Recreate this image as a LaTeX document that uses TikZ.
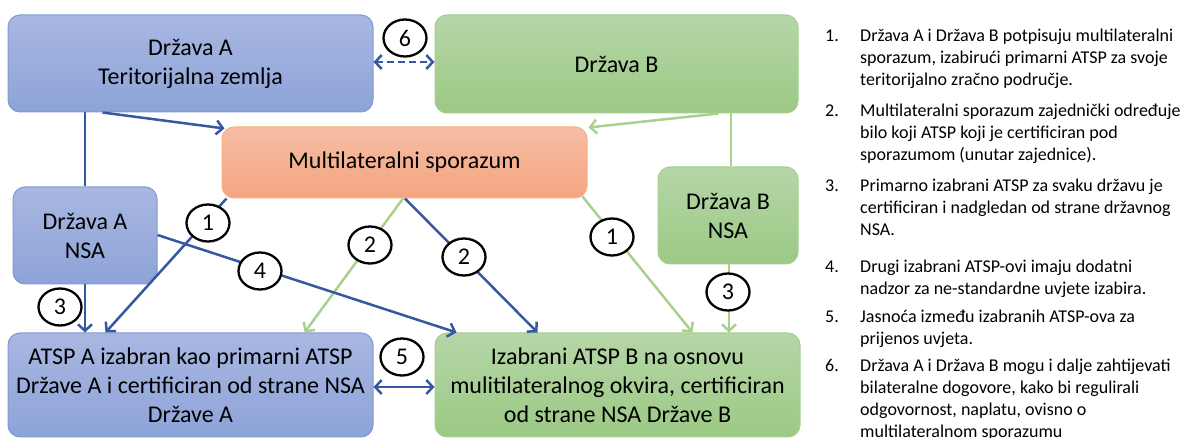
\documentclass[tikz,border=0pt]{standalone}
\usepackage{fontspec}
\setmainfont{Carlito}
\usetikzlibrary{arrows.meta,shapes.geometric,calc}
\definecolor{bluetop}{HTML}{A9B7E1}
\definecolor{bluebot}{HTML}{8DA3D8}
\definecolor{blueedge}{HTML}{7F9AD2}
\definecolor{greentop}{HTML}{B5D6A7}
\definecolor{greenbot}{HTML}{9CC985}
\definecolor{greenedge}{HTML}{A5CF8F}
\definecolor{orangetop}{HTML}{F6BEA5}
\definecolor{orangebot}{HTML}{F4A47F}
\definecolor{orangeedge}{HTML}{F4B183}
\definecolor{blueline}{HTML}{3558A0}
\definecolor{greenline}{HTML}{A9D18E}
\tikzset{
  box/.style={rectangle, rounded corners=12pt, line width=1pt, align=center,
    font=\fontsize{24}{29}\selectfont, inner sep=0pt},
  bluebox/.style={box, draw=blueedge, top color=bluetop, bottom color=bluebot},
  greenbox/.style={box, draw=greenedge, top color=greentop, bottom color=greenbot},
  orangebox/.style={box, draw=orangeedge, top color=orangetop, bottom color=orangebot},
  numcirc/.style={ellipse, draw=black, line width=2.3pt, fill=white, minimum width=43pt,
    minimum height=37pt, inner sep=0pt, font=\fontsize{24}{24}\selectfont},
  tip/.style={-{Straight Barb[length=6.5pt,width=14pt]}},
  bline/.style={draw=blueline, line width=2.5pt},
  gline/.style={draw=greenline, line width=2.5pt},
  legnum/.style={anchor=base west, inner sep=0pt, font=\fontsize{18}{21.7}\selectfont},
  legtxt/.style={anchor=base west, inner sep=0pt, font=\fontsize{18}{21.7}\selectfont},
}
\begin{document}
\begin{tikzpicture}[x=1pt,y=-1pt]
\useasboundingbox (0,0) rectangle (1195,438);
% boxes
\node[bluebox, minimum width=365pt, minimum height=97pt] (dA) at (190.5,63.5) {Država A\\Teritorijalna zemlja};
\node[greenbox, minimum width=363pt, minimum height=98pt] (dB) at (616.5,64) {Država B};
\node[orangebox, minimum width=365pt, minimum height=71pt] (ms) at (404.5,162.5) {Multilateralni sporazum};
\node[bluebox, minimum width=144pt, minimum height=97pt] (nA) at (85,235.5) {Država A\\NSA};
\node[greenbox, minimum width=140pt, minimum height=97pt] (nB) at (728,215.5) {Država B\\NSA};
\node[bluebox, minimum width=365pt, minimum height=104pt] (aA) at (190.5,385) {ATSP A izabran kao primarni ATSP\\Države A i certificiran od strane NSA\\Države A};
\node[greenbox, minimum width=365pt, minimum height=104pt] (aB) at (617.5,385) {Izabrani ATSP B na osnovu\\mulitilateralnog okvira, certificiran\\od strane NSA Države B};
% connectors
\draw[bline] (dA.south -| nA.north) -- (nA.north);
\draw[bline, tip] ([xshift=95pt]dA.south west) -- ([xshift=3pt,yshift=-2pt]ms.north west);
\draw[gline, tip] ([xshift=-80pt]dB.south east) -- ([xshift=1pt,yshift=-1pt]ms.north east);
\draw[gline] ([xshift=3pt]nB.north) -- ([xshift=3pt]nB.north |- dB.south);
\draw[bline, tip] (nA.south) -- (nA.south |- aA.north);
\draw[gline, tip] ([xshift=1pt]nB.south) -- ([xshift=1pt]nB.south |- aA.north);
\draw[bline, tip] ([xshift=5pt]ms.south west) -- ([xshift=98pt]aA.north west);
\draw[gline, tip] ([xshift=-1.5pt]ms.south) -- ([xshift=-69pt]aA.north east);
\draw[bline, tip] ([xshift=0.5pt]ms.south) -- ([xshift=103pt]aB.north west);
\draw[gline, tip] ([xshift=-5pt,yshift=2pt]ms.south east) -- ([xshift=-108pt]aB.north east);
\draw[bline, tip] ([yshift=0.5pt]nA.east) -- ([xshift=22pt]aB.north west);
\draw[bline, {Straight Barb[length=6.5pt,width=14pt]}-{Straight Barb[length=6.5pt,width=14pt]}] ([yshift=-2pt]aA.east) -- ([yshift=-2pt]aB.west);
\draw[bline, dash pattern=on 7pt off 4pt, {Straight Barb[length=6.5pt,width=14pt]}-{Straight Barb[length=6.5pt,width=14pt]}] ([yshift=1.5pt]dA.east) -- ([yshift=2pt]dB.west);
% number circles
\node[numcirc] (c6) at (405,38) {6};
\node[numcirc] (c3a) at (60,307) {3};
\node[numcirc] (c3b) at (728,292) {3};
\node[numcirc] (c1a) at (208,223) {1};
\node[numcirc] (c2a) at (370,245) {2};
\node[numcirc] (c2b) at (464,257) {2};
\node[numcirc] (c1b) at (612,237) {1};
\node[numcirc] (c4) at (260,271) {4};
\node[numcirc] (c5) at (402,357) {5};
% legend
\node[legnum] (n1) at (825,42) {1.};
\node[legtxt] (t1a) at (860,42) {Država A i Država B potpisuju multilateralni};
\node[legtxt] (t1b) at (860,63.7) {sporazum, izabirući primarni ATSP za svoje};
\node[legtxt] (t1c) at (860,85.4) {teritorijalno zračno područje.};
\node[legnum] (n2) at (825,117) {2.};
\node[legtxt] (t2a) at (860,117) {Multilateralni sporazum zajednički određuje};
\node[legtxt] (t2b) at (860,138.7) {bilo koji ATSP koji je certificiran pod};
\node[legtxt] (t2c) at (860,160.4) {sporazumom (unutar zajednice).};
\node[legnum] (n3) at (825,192) {3.};
\node[legtxt] (t3a) at (860,192) {Primarno izabrani ATSP za svaku državu je};
\node[legtxt] (t3b) at (860,213.7) {certificiran i nadgledan od strane državnog};
\node[legtxt] (t3c) at (860,235.4) {NSA.};
\node[legnum] (n4) at (825,273) {4.};
\node[legtxt] (t4a) at (860,273) {Drugi izabrani ATSP-ovi imaju dodatni};
\node[legtxt] (t4b) at (860,294.7) {nadzor za ne-standardne uvjete izabira.};
\node[legnum] (n5) at (825,323) {5.};
\node[legtxt] (t5a) at (860,323) {Jasnoća između izabranih ATSP-ova za};
\node[legtxt] (t5b) at (860,344.7) {prijenos uvjeta.};
\node[legnum] (n6) at (825,372) {6.};
\node[legtxt] (t6a) at (860,372) {Država A i Država B mogu i dalje zahtijevati};
\node[legtxt] (t6b) at (860,393.7) {bilateralne dogovore, kako bi regulirali};
\node[legtxt] (t6c) at (860,415.4) {odgovornost, naplatu, ovisno o};
\node[legtxt] (t6d) at (860,437.1) {multilateralnom sporazumu};
\end{tikzpicture}
\end{document}
